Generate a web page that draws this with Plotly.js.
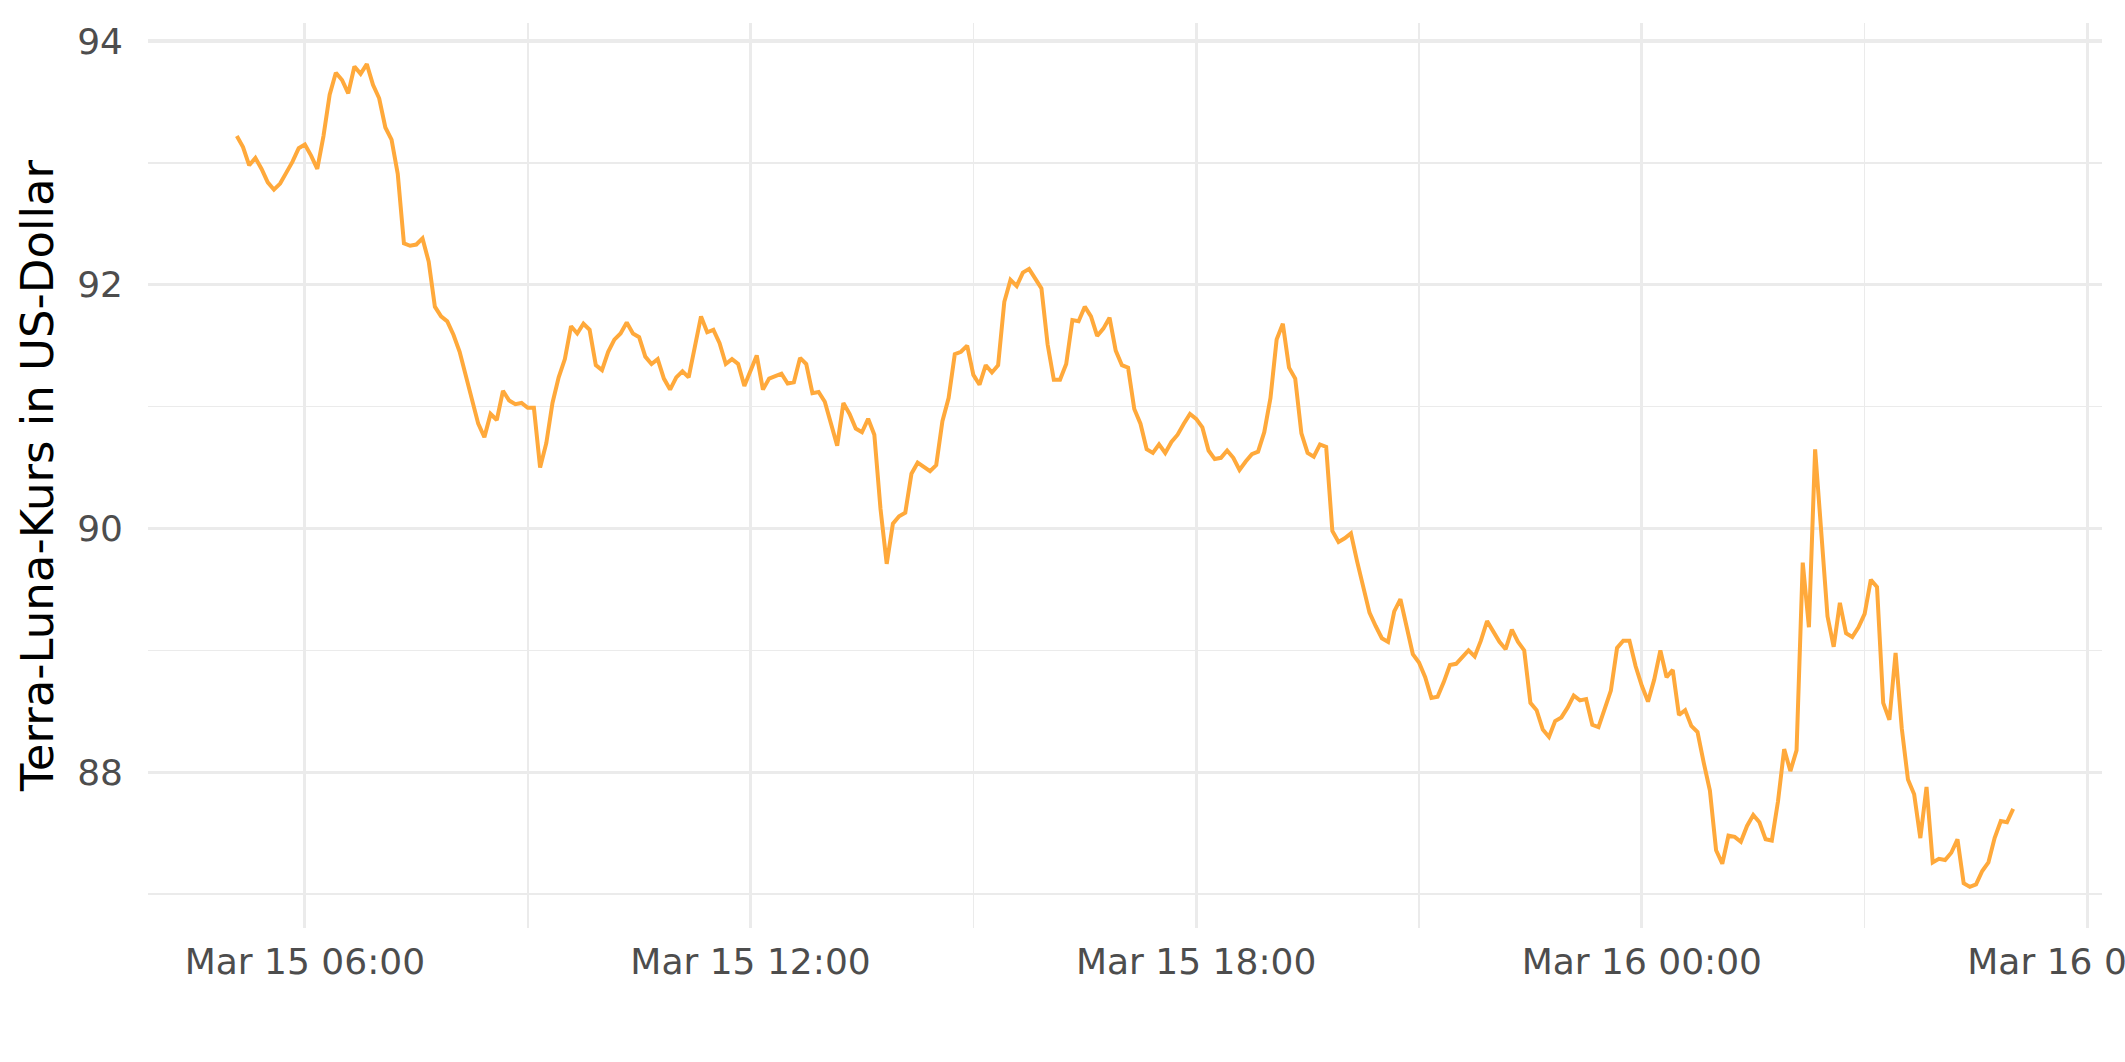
<!DOCTYPE html>
<html>
<head>
<meta charset="utf-8">
<script src="https://cdn.plot.ly/plotly-3.0.1.min.js"></script>
<style>html,body{margin:0;padding:0;background:#fff;}#chart{width:2125px;height:1062px;}</style>
</head>
<body>
<div id="chart"></div>
<script>
// Terra-Luna price, 5-minute steps starting Mar 15 05:05
const startTime = '2022-03-15T05:05:00Z';
const stepMinutes = 5;
const priceUSD = [
93.22,93.13,92.98,93.04,92.95,92.84,92.78,92.83,92.92,93.01,
93.12,93.15,93.06,92.95,93.22,93.56,93.74,93.68,93.57,93.79,
93.73,93.81,93.64,93.53,93.29,93.19,92.91,92.34,92.32,92.33,
92.38,92.19,91.82,91.74,91.70,91.59,91.45,91.25,91.08,90.86,
90.75,90.94,90.89,91.13,91.05,91.02,91.03,90.99,90.99,90.50,
90.70,91.03,91.24,91.39,91.66,91.60,91.68,91.63,91.34,91.30,
91.45,91.55,91.60,91.69,91.60,91.57,91.41,91.35,91.39,91.23,
91.14,91.24,91.29,91.24,91.49,91.74,91.61,91.63,91.52,91.35,
91.39,91.35,91.17,91.30,91.42,91.14,91.23,91.25,91.27,91.19,
91.20,91.40,91.35,91.11,91.12,91.04,90.85,90.68,91.03,90.94,
90.82,90.79,90.90,90.77,90.16,89.71,90.04,90.10,90.13,90.45,
90.54,90.50,90.47,90.52,90.88,91.07,91.43,91.45,91.50,91.26,
91.18,91.34,91.28,91.34,91.86,92.04,91.99,92.10,92.13,92.05,
91.97,91.51,91.22,91.22,91.35,91.71,91.70,91.82,91.74,91.58,
91.64,91.73,91.46,91.34,91.32,90.98,90.86,90.65,90.62,90.69,
90.62,90.71,90.77,90.86,90.94,90.90,90.83,90.64,90.57,90.58,
90.64,90.58,90.48,90.55,90.61,90.63,90.79,91.07,91.55,91.68,
91.32,91.23,90.78,90.62,90.59,90.69,90.67,89.98,89.89,89.92,
89.96,89.73,89.51,89.31,89.20,89.10,89.07,89.32,89.42,89.19,
88.97,88.90,88.78,88.61,88.62,88.74,88.88,88.89,88.95,89.00,
88.95,89.08,89.24,89.16,89.07,89.01,89.17,89.07,89.00,88.57,
88.51,88.35,88.29,88.42,88.45,88.53,88.63,88.59,88.60,88.39,
88.37,88.52,88.67,89.02,89.08,89.08,88.87,88.71,88.58,88.76,
89.00,88.78,88.84,88.47,88.51,88.38,88.33,88.08,87.85,87.36,
87.25,87.48,87.47,87.43,87.56,87.65,87.59,87.45,87.44,87.76,
88.19,88.01,88.18,89.72,89.19,90.65,89.94,89.28,89.03,89.39,
89.14,89.11,89.19,89.30,89.58,89.52,88.57,88.43,88.98,88.36,
87.94,87.82,87.46,87.88,87.26,87.29,87.28,87.34,87.45,87.09,
87.06,87.08,87.19,87.26,87.46,87.60,87.59,87.70
];
const yTickVals = [88, 90, 92, 94];
const yTitle = 'Terra-Luna-Kurs in US-Dollar';

function fmt(ms) {
  return new Date(ms).toISOString().slice(0, 19).replace('T', ' ');
}
const t0 = Date.parse(startTime);
const times = priceUSD.map((_, i) => fmt(t0 + i * stepMinutes * 60000));

// ggplot-like 5% expansion
const tFirst = t0, tLast = t0 + (priceUSD.length - 1) * stepMinutes * 60000;
const tPad = (tLast - tFirst) * 0.05;
const yMin = Math.min(...priceUSD), yMax = Math.max(...priceUSD);
const yPad = (yMax - yMin) * 0.05;

const grid = '#EBEBEB';
const font = 'DejaVu Sans, Verdana, sans-serif';

Plotly.newPlot('chart', [{
  type: 'scatter', mode: 'lines',
  x: times, y: priceUSD,
  line: {color: '#FFA93B', width: 4},
  hoverinfo: 'skip'
}], {
  width: 2125, height: 1062,
  paper_bgcolor: '#fff', plot_bgcolor: '#fff',
  margin: {l: 148, r: 23, t: 23, b: 134},
  showlegend: false,
  font: {family: font},
  xaxis: {
    type: 'date',
    range: [fmt(tFirst - tPad), fmt(tLast + tPad)],
    tick0: '2022-03-15 00:00', dtick: 6 * 3600000,
    tickformat: '%b %d %H:%M',
    tickfont: {family: font, size: 36, color: '#4D4D4D'},
    ticklabeloverflow: 'allow',
    showgrid: true, gridcolor: grid, gridwidth: 3.2,
    minor: {tick0: '2022-03-15 00:00', dtick: 3 * 3600000, showgrid: true, gridcolor: grid, gridwidth: 1.6},
    zeroline: false, showline: false, ticks: '',
    ticklabelstandoff: 9
  },
  yaxis: {
    range: [yMin - yPad, yMax + yPad],
    tickvals: yTickVals,
    tickfont: {family: font, size: 36, color: '#4D4D4D'},
    showgrid: true, gridcolor: grid, gridwidth: 3.2,
    minor: {dtick: 1, showgrid: true, gridcolor: grid, gridwidth: 1.6},
    zeroline: false, showline: false, ticks: '',
    ticklabelstandoff: 24,
    title: {text: yTitle, font: {family: font, size: 45, color: '#000'}, standoff: 9}
  }
}, {displayModeBar: false, staticPlot: true});
</script>
</body>
</html>
